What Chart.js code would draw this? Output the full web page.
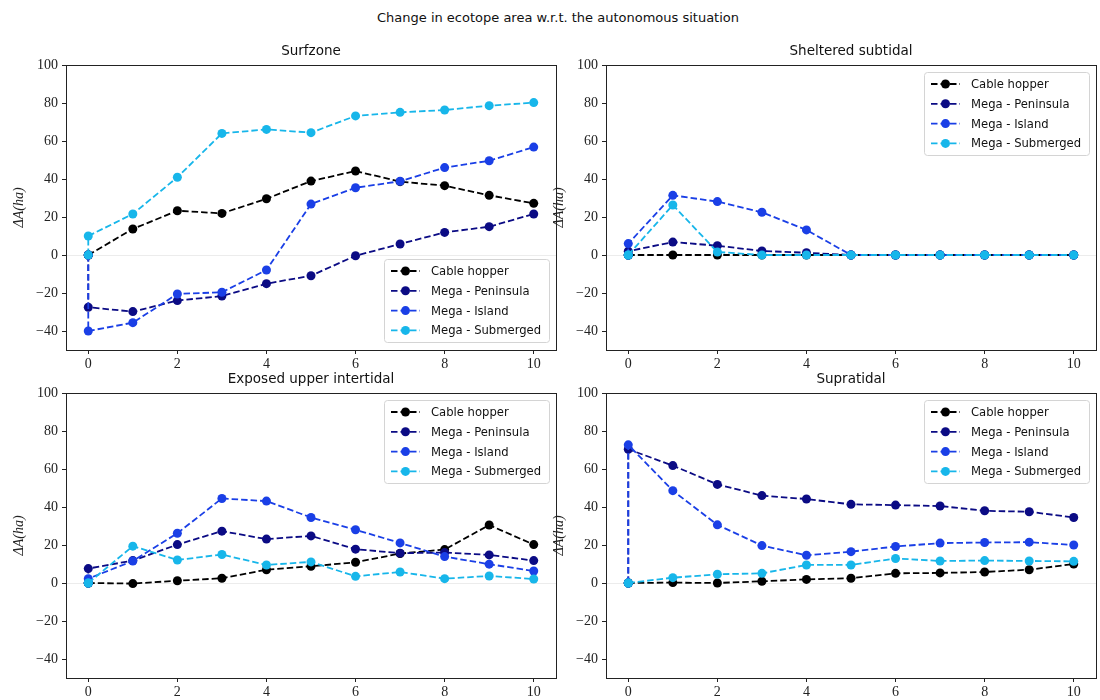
<!DOCTYPE html>
<html>
<head>
<meta charset="utf-8">
<script src="https://cdn.jsdelivr.net/npm/chart.js@4.4.0/dist/chart.umd.min.js"></script>
<style>
  body { margin: 0; background: #fff; }
  #wrap { position: relative; width: 1100px; height: 700px; }
  #suptitle { position: absolute; top: 10px; left: 0; width: 1116px; text-align: center;
              font: 13px "DejaVu Sans", sans-serif; color: #111; }
  canvas { position: absolute; }
</style>
</head>
<body>
<div id="wrap">
  <div id="suptitle">Change in ecotope area w.r.t. the autonomous situation</div>
  <canvas id="c0" width="562" height="350" style="left:0;top:30px"></canvas>
  <canvas id="c1" width="562" height="350" style="left:540px;top:30px"></canvas>
  <canvas id="c2" width="562" height="350" style="left:0;top:358px"></canvas>
  <canvas id="c3" width="562" height="350" style="left:540px;top:358px"></canvas>
</div>
<script>
// x positions: every run starts at (0, 0) before the first real value at x = 0
const steps = [0, 0, 1, 2, 3, 4, 5, 6, 7, 8, 9, 10];
const xTicks = [0, 2, 4, 6, 8, 10];
const yTicks = [-40, -20, 0, 20, 40, 60, 80, 100];

const seriesNames = ['Cable hopper', 'Mega - Peninsula', 'Mega - Island', 'Mega - Submerged'];
const seriesColors = ['#000000', '#0b0b84', '#1a3fe6', '#17b6ea'];

// Surfzone
const surfCable     = [0, 0, 13.7, 23.3, 21.9, 29.6, 38.9, 44.2, 38.6, 36.5, 31.4, 27.2];
const surfPeninsula = [0, -27.5, -29.8, -24.0, -21.6, -15.1, -10.9, -0.4, 5.8, 11.9, 14.9, 21.6];
const surfIsland    = [0, -40.0, -35.6, -20.5, -19.6, -7.9, 26.8, 35.4, 38.8, 46.0, 49.6, 56.8];
const surfSubmerged = [0, 10.0, 21.6, 40.9, 64.0, 66.1, 64.4, 73.2, 75.1, 76.3, 78.6, 80.2];

// Sheltered subtidal
const shelCable     = [0, 0, 0, 0, 0, 0, 0, 0, 0, 0, 0, 0];
const shelPeninsula = [0, 2.0, 6.8, 4.9, 2.1, 1.2, 0, 0, 0, 0, 0, 0];
const shelIsland    = [0, 6.0, 31.4, 28.1, 22.5, 13.2, 0, 0, 0, 0, 0, 0];
const shelSubmerged = [0, 0, 26.3, 1.6, 0, 0, 0, 0, 0, 0, 0, 0];

// Exposed upper intertidal
const expoCable     = [0, 0, -0.3, 1.2, 2.5, 7.0, 8.8, 10.9, 15.5, 17.6, 30.5, 20.2];
const expoPeninsula = [0, 7.6, 11.8, 20.2, 27.3, 23.1, 24.8, 17.8, 15.7, 16.0, 14.8, 11.8];
const expoIsland    = [0, 2.3, 11.6, 26.2, 44.5, 43.1, 34.5, 28.0, 21.1, 13.9, 9.9, 6.3];
const expoSubmerged = [0, 0, 19.4, 12.1, 15.0, 9.5, 11.1, 3.5, 5.8, 2.3, 3.7, 2.1];

// Supratidal
const supraCable     = [0, 0, 0.2, 0, 0.9, 1.9, 2.5, 5.1, 5.3, 5.8, 7.0, 10.0];
const supraPeninsula = [0, 70.4, 61.8, 51.9, 46.0, 44.2, 41.4, 41.0, 40.5, 38.0, 37.5, 34.5];
const supraIsland    = [0, 72.7, 48.6, 30.6, 19.7, 14.6, 16.5, 19.2, 21.0, 21.3, 21.5, 20.0];
const supraSubmerged = [0, 0, 2.8, 4.6, 5.1, 9.5, 9.5, 12.9, 11.6, 11.8, 11.6, 11.4];

const DASH = [6.5, 3];
const SANS = '"DejaVu Sans", sans-serif';
const SERIF = '"Liberation Serif", serif';

// box, zero line, subplot title and matplotlib-like legend
const framePlugin = {
  id: 'frame',
  beforeDatasetsDraw(chart) {
    const { ctx, chartArea: a, scales: { y } } = chart;
    const y0 = Math.round(y.getPixelForValue(0)) + 0.5;
    ctx.save();
    ctx.strokeStyle = '#ececec';
    ctx.lineWidth = 1;
    ctx.beginPath();
    ctx.moveTo(a.left, y0);
    ctx.lineTo(a.right, y0);
    ctx.stroke();
    ctx.restore();
  },
  afterDraw(chart, args, opts) {
    const { ctx, chartArea: a } = chart;
    ctx.save();
    ctx.strokeStyle = '#222';
    ctx.lineWidth = 1;
    ctx.strokeRect(Math.round(a.left) + 0.5, Math.round(a.top) + 0.5,
                   Math.round(a.right - a.left), Math.round(a.bottom - a.top));

    ctx.fillStyle = '#111';
    ctx.font = '13.5px ' + SANS;
    ctx.textAlign = 'center';
    ctx.textBaseline = 'middle';
    ctx.fillText(opts.title, (a.left + a.right) / 2, a.top - 14);

    // legend
    const w = 165, h = 83;
    const lx = a.right - 7 - w;
    const ly = opts.legendAt === 'bottom' ? a.bottom - 8 - h : a.top + 7;
    ctx.beginPath();
    ctx.roundRect(lx + 0.5, ly + 0.5, w, h, 3);
    ctx.fillStyle = 'rgba(255,255,255,0.8)';
    ctx.fill();
    ctx.strokeStyle = '#d4d4d4';
    ctx.stroke();
    ctx.font = '11.6px ' + SANS;
    ctx.textAlign = 'left';
    chart.data.datasets.forEach((ds, i) => {
      const cy = ly + 12 + i * 19.8;
      ctx.strokeStyle = ds.borderColor;
      ctx.lineWidth = 1.8;
      ctx.setLineDash(DASH);
      ctx.beginPath();
      ctx.moveTo(lx + 7, cy);
      ctx.lineTo(lx + 36, cy);
      ctx.stroke();
      ctx.setLineDash([]);
      ctx.fillStyle = ds.borderColor;
      ctx.beginPath();
      ctx.arc(lx + 21.5, cy, 4.5, 0, Math.PI * 2);
      ctx.fill();
      ctx.fillStyle = '#111';
      ctx.fillText(ds.label, lx + 47, cy + 1);
    });
    ctx.restore();
  }
};

function makePanel(id, title, values, legendAt) {
  const datasets = values.map((vals, i) => ({
    label: seriesNames[i],
    data: steps.map((x, j) => ({ x: x, y: vals[j] })),
    borderColor: seriesColors[i],
    backgroundColor: seriesColors[i],
    borderWidth: 1.8,
    borderDash: DASH,
    pointRadius: 4.5,
    pointBorderWidth: 0,
    pointBackgroundColor: seriesColors[i],
    tension: 0,
    order: values.length - 1 - i
  }));

  const axisGrid = { drawOnChartArea: false, tickLength: 4, tickColor: '#222', tickWidth: 1 };

  new Chart(document.getElementById(id), {
    type: 'line',
    data: { datasets: datasets },
    plugins: [framePlugin],
    options: {
      responsive: false,
      animation: false,
      layout: { padding: { top: 35, right: 6, left: 0, bottom: 0 } },
      plugins: {
        legend: { display: false },
        tooltip: { enabled: false },
        frame: { title: title, legendAt: legendAt }
      },
      scales: {
        x: {
          type: 'linear',
          min: -0.5,
          max: 10.5,
          afterBuildTicks: s => { s.ticks = xTicks.map(v => ({ value: v })); },
          afterFit: s => { s.height = 30; },
          grid: axisGrid,
          border: { display: false },
          ticks: { color: '#222', font: { family: SERIF, size: 14 }, padding: 2, maxRotation: 0 }
        },
        y: {
          min: -50,
          max: 100,
          afterBuildTicks: s => { s.ticks = yTicks.map(v => ({ value: v })); },
          afterFit: s => { s.width = 66; },
          grid: axisGrid,
          border: { display: false },
          ticks: {
            color: '#222',
            font: { family: SERIF, size: 14 },
            padding: 4,
            callback: v => String(v).replace('-', '\u2212')
          },
          title: {
            display: true,
            text: '\u0394A(ha)',
            color: '#222',
            font: { family: SERIF, size: 14, style: 'italic' },
            padding: { top: 11, bottom: 0 }
          }
        }
      }
    }
  });
}

makePanel('c0', 'Surfzone', [surfCable, surfPeninsula, surfIsland, surfSubmerged], 'bottom');
makePanel('c1', 'Sheltered subtidal', [shelCable, shelPeninsula, shelIsland, shelSubmerged], 'top');
makePanel('c2', 'Exposed upper intertidal', [expoCable, expoPeninsula, expoIsland, expoSubmerged], 'top');
makePanel('c3', 'Supratidal', [supraCable, supraPeninsula, supraIsland, supraSubmerged], 'top');
</script>
</body>
</html>
